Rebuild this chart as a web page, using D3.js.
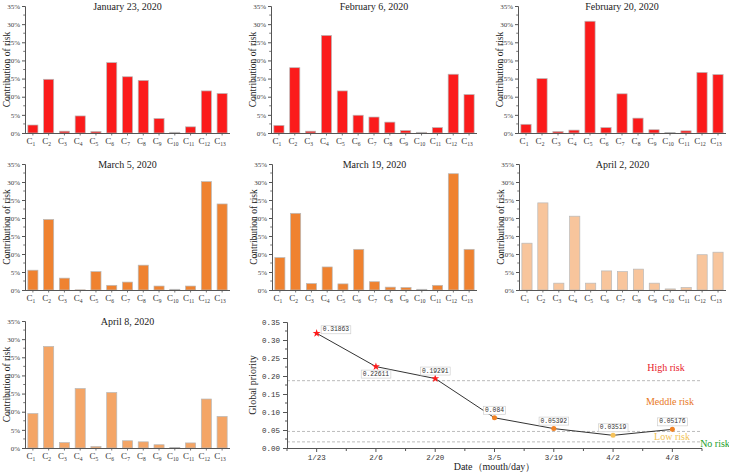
<!DOCTYPE html>
<html><head><meta charset="utf-8">
<script src="https://cdn.jsdelivr.net/npm/d3@7"></script>
<style>body{margin:0;background:#fff}svg{display:block}</style>
</head><body><svg id="c" width="729" height="473"></svg>
<script>
// ---------- data ----------
const criteria = ["1","2","3","4","5","6","7","8","9","10","11","12","13"];
const panelTitles = ["January 23, 2020","February 6, 2020","February 20, 2020","March 5, 2020","March 19, 2020","April 2, 2020","April 8, 2020"];
const jan23 = [2.2,14.8,0.5,4.7,0.4,19.4,15.5,14.5,4.0,0.2,1.7,11.6,10.9];
const feb6  = [2.1,18.0,0.5,26.9,11.6,4.9,4.4,3.0,0.7,0.2,1.5,16.2,10.6];
const feb20 = [2.4,15.0,0.4,0.8,30.8,1.5,10.8,4.1,0.9,0.1,0.6,16.7,16.1];
const mar5  = [5.5,19.6,3.3,0.05,5.1,1.3,2.2,6.9,1.1,0.2,1.1,30.1,23.9];
const mar19 = [9.0,21.3,1.8,6.4,1.7,11.3,2.3,0.8,0.7,0.2,1.3,32.3,11.3];
const apr2  = [13.0,24.2,1.9,20.5,1.9,5.3,5.1,5.8,1.9,0.3,0.7,9.8,10.5];
const apr8  = [9.5,28.0,1.5,16.4,0.4,15.3,2.0,1.7,0.9,0.1,1.4,13.5,8.7];
const pctTicks = [0,5,10,15,20,25,30,35];

const dates = ["1/23","2/6","2/20","3/5","3/19","4/2","4/8"];
const globalPriority = [0.31863,0.22611,0.19291,0.084,0.05392,0.03519,0.05176];
const priorityLabels = ["0.31863","0.22611","0.19291","0.084","0.05392","0.03519","0.05176"];
const priorityTicks = [0,0.05,0.10,0.15,0.20,0.25,0.30,0.35];
const riskThresholds = [0.187,0.046,0.017];
const riskNames = ["High risk","Meddle risk","Low risk","No risk"];

// ---------- layout / style ----------
const svg = d3.select("#c");
const serif = "'Liberation Serif','Times New Roman',serif";
const mono = "'Liberation Mono','DejaVu Sans Mono',monospace";
const axisCol = "#555";

const panels = [
  {data:jan23, x0:25,  top:6,   bottom:133, w:205, color:"#fb1b1b"},
  {data:feb6,  x0:271, top:6,   bottom:133, w:206, color:"#fb1b1b"},
  {data:feb20, x0:518, top:6,   bottom:133, w:208, color:"#fb1b1b"},
  {data:mar5,  x0:25,  top:164, bottom:290, w:205, color:"#ef8230"},
  {data:mar19, x0:272, top:164, bottom:290, w:205, color:"#ef8230"},
  {data:apr2,  x0:519, top:164, bottom:290, w:207, color:"#f8c59c"},
  {data:apr8,  x0:25,  top:321, bottom:448, w:205, color:"#f4a566"}
];

panels.forEach((p,pi)=>{
  const g = svg.append("g");
  const y = d3.scaleLinear().domain([0,35]).range([p.bottom,p.top]);
  const x = d3.scaleBand().domain(criteria).range([p.x0,p.x0+p.w]).paddingInner(0.36).paddingOuter(0.18);

  g.selectAll("rect").data(p.data).join("rect")
    .attr("x",(d,i)=>x(criteria[i]))
    .attr("y",d=>y(d))
    .attr("width",x.bandwidth())
    .attr("height",d=>p.bottom-y(d))
    .attr("fill",p.color)
    .attr("stroke","#b9b9b9").attr("stroke-width",0.7);

  const ya = g.append("g").attr("transform",`translate(${p.x0},0)`)
    .call(d3.axisLeft(y).tickValues(pctTicks).tickFormat(d=>d+"%").tickSize(3).tickPadding(2));
  ya.select(".domain").attr("stroke",axisCol);
  ya.selectAll(".tick line").attr("stroke",axisCol);
  ya.selectAll("text").attr("font-family",serif).attr("font-size",7).attr("fill","#444");
  const minor = d3.range(2.5,35,5);
  g.selectAll(".mn").data(minor).join("line")
    .attr("x1",p.x0-1.8).attr("x2",p.x0).attr("y1",d=>y(d)).attr("y2",d=>y(d))
    .attr("stroke",axisCol).attr("stroke-width",0.8);

  g.append("line").attr("x1",p.x0).attr("x2",p.x0+p.w).attr("y1",p.bottom+0.5).attr("y2",p.bottom+0.5)
    .attr("stroke",axisCol);
  g.selectAll(".xt").data(criteria).join("line")
    .attr("x1",d=>x(d)+x.bandwidth()/2).attr("x2",d=>x(d)+x.bandwidth()/2)
    .attr("y1",p.bottom+0.5).attr("y2",p.bottom+2.5).attr("stroke",axisCol).attr("stroke-width",0.8);
  const lab = g.selectAll(".xl").data(criteria).join("text")
    .attr("x",d=>x(d)+x.bandwidth()/2-2).attr("y",p.bottom+11)
    .attr("text-anchor","middle").attr("font-family",serif).attr("fill","#333");
  lab.append("tspan").attr("font-size",9).text("C");
  lab.append("tspan").attr("font-size",5.5).attr("dy",2).text(d=>d);

  g.append("text").attr("x",p.x0+p.w/2).attr("y",p.top+3.5).attr("text-anchor","middle")
    .attr("font-family",serif).attr("font-size",10).attr("fill","#222").text(panelTitles[pi]);
  g.append("text").attr("transform",`translate(${p.x0-15.5},${(p.top+p.bottom)/2}) rotate(-90)`)
    .attr("text-anchor","middle").attr("font-family",serif).attr("font-size",9.5).attr("fill","#222")
    .text("Contribution of risk");
});

// ---------- line chart ----------
const L = {x0:287, x1:702, top:322, bottom:448};
const xp = d3.scalePoint().domain(dates).range([L.x0,L.x1]).padding(0.5);
const yp = d3.scaleLinear().domain([0,0.35]).range([L.bottom,L.top]);
const lg = svg.append("g");

lg.selectAll(".th").data(riskThresholds).join("line")
  .attr("x1",L.x0).attr("x2",L.x1).attr("y1",d=>yp(d)).attr("y2",d=>yp(d))
  .attr("stroke","#aaa").attr("stroke-width",0.8).attr("stroke-dasharray","3,2");

const yax = lg.append("g").attr("transform",`translate(${L.x0},0)`)
  .call(d3.axisLeft(yp).tickValues(priorityTicks).tickFormat(d3.format(".2f")).tickSize(4).tickPadding(3));
yax.select(".domain").attr("stroke",axisCol);
yax.selectAll(".tick line").attr("stroke",axisCol);
yax.selectAll("text").attr("font-family",mono).attr("font-size",7.5).attr("fill","#333");
lg.selectAll(".ymn").data(d3.range(0.025,0.35,0.05)).join("line")
  .attr("x1",L.x0-2).attr("x2",L.x0).attr("y1",d=>yp(d)).attr("y2",d=>yp(d)).attr("stroke",axisCol);

lg.append("line").attr("x1",L.x0).attr("x2",L.x1).attr("y1",L.bottom+0.5).attr("y2",L.bottom+0.5).attr("stroke",axisCol);
const step = xp.step();
const xtickPos = d3.range(0,dates.length*2+1).map(k=>L.x0+k*step/2);
lg.selectAll(".xtk").data(xtickPos).join("line")
  .attr("x1",d=>d).attr("x2",d=>d).attr("y1",L.bottom+0.5).attr("y2",(d,i)=>L.bottom+(i%2?4:3))
  .attr("stroke",axisCol);
lg.selectAll(".xlb").data(dates).join("text")
  .attr("x",d=>xp(d)).attr("y",L.bottom+12).attr("text-anchor","middle")
  .attr("font-family",mono).attr("font-size",7.5).attr("fill","#333").text(d=>d);

lg.append("text").attr("x",(L.x0+L.x1)/2).attr("y",470).attr("text-anchor","middle")
  .attr("font-family",serif).attr("font-size",10).attr("fill","#222").text("Date（mouth/day）");
lg.append("text").attr("transform",`translate(256,${(L.top+L.bottom)/2}) rotate(-90)`)
  .attr("text-anchor","middle").attr("font-family",serif).attr("font-size",10).attr("fill","#222")
  .text("Global priority");

lg.append("path").datum(globalPriority)
  .attr("d",d3.line().x((d,i)=>xp(dates[i])).y(d=>yp(d)))
  .attr("fill","none").attr("stroke","#333").attr("stroke-width",1);

const markerColor = d=> d>riskThresholds[0] ? "#ff1a1a" : d>riskThresholds[1] ? "#f08224" : "#f6c25a";
lg.selectAll(".mk").data(globalPriority).join("path")
  .attr("transform",(d,i)=>`translate(${xp(dates[i])},${yp(d)})`)
  .attr("d",d=>d>riskThresholds[0] ? d3.symbol(d3.symbolStar,20)() : d3.symbol(d3.symbolCircle,20)())
  .attr("fill",markerColor);

const pos = ["right","below","above","above","above","above","above"];
globalPriority.forEach((v,i)=>{
  const px = xp(dates[i]), py = yp(v);
  const t = lg.append("text").attr("font-family",mono).attr("font-size",6.3).attr("fill","#333")
    .text(priorityLabels[i]);
  let tx, ty;
  if(pos[i]==="right"){ tx=px+6; ty=py-2; t.attr("text-anchor","start"); }
  else if(pos[i]==="below"){ tx=px; ty=py+9; t.attr("text-anchor","middle"); }
  else { tx=px; ty=py-6; t.attr("text-anchor","middle"); }
  t.attr("x",tx).attr("y",ty);
  const bb = t.node().getBBox();
  lg.insert("rect",()=>t.node()).attr("x",bb.x-1.5).attr("y",bb.y-0.5).attr("width",bb.width+3).attr("height",bb.height+1)
    .attr("fill","#fff").attr("stroke","#c8c8c8").attr("stroke-width",0.6);
});

const riskCols = ["#e8202a","#e8781e","#f2c255","#22a028"];
const riskPos = [[666,371],[670,405],[672,440],[715,447]];
lg.selectAll(".rk").data(riskNames).join("text")
  .attr("x",(d,i)=>riskPos[i][0]).attr("y",(d,i)=>riskPos[i][1]).attr("text-anchor","middle")
  .attr("font-family",serif).attr("font-size",10).attr("fill",(d,i)=>riskCols[i]).text(d=>d);
</script></body></html>
